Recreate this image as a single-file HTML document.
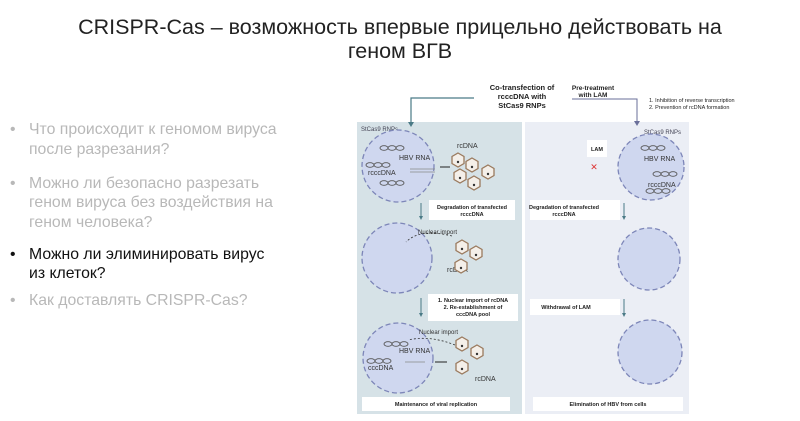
<!DOCTYPE html>
<html><head><meta charset="utf-8"><style>
html,body{margin:0;padding:0;background:#fff;width:800px;height:421px;overflow:hidden}
svg{display:block}
</style></head><body>
<svg width="800" height="421" viewBox="0 0 800 421" xmlns="http://www.w3.org/2000/svg">
<defs>
<g id="hex"><polygon points="0,-7 6,-3.5 6,3.5 0,7 -6,3.5 -6,-3.5" fill="#f4efe9" stroke="#9a7a5e" stroke-width="1.3"/><circle cx="0" cy="2" r="1.2" fill="#333"/></g>
<g id="dna"><ellipse cx="0" cy="0" rx="4" ry="2.3" fill="none" stroke="#555" stroke-width="0.9"/><ellipse cx="8" cy="0" rx="4" ry="2.3" fill="none" stroke="#555" stroke-width="0.9"/><ellipse cx="16" cy="0" rx="4" ry="2.3" fill="none" stroke="#555" stroke-width="0.9"/></g>
</defs>
<g font-family="Liberation Sans, Noto Sans CJK JP, sans-serif">
<text x="400" y="34" font-size="21.5" text-anchor="middle" fill="#222">CRISPR-Cas – возможность впервые прицельно действовать на</text>
<text x="400" y="58" font-size="21.5" text-anchor="middle" fill="#222">геном ВГВ</text>
<g font-size="15.8" fill="#b8b8b8">
<text x="10" y="134">•</text><text x="29" y="134">Что происходит к геномом вируса</text>
<text x="29" y="154">после разрезания?</text>
<text x="10" y="188">•</text><text x="29" y="188">Можно ли безопасно разрезать</text>
<text x="29" y="207">геном вируса без воздействия на</text>
<text x="29" y="227">геном человека?</text>
<text x="10" y="259" fill="#111">•</text><text x="29" y="259" fill="#111">Можно ли элиминировать вирус</text>
<text x="29" y="278" fill="#111">из клеток?</text>
<text x="10" y="305">•</text><text x="29" y="305">Как доставлять CRISPR-Cas?</text>
</g>
</g>
<rect x="357" y="122" width="165" height="292" fill="#d6e2e7"/>
<rect x="525" y="122" width="164" height="292" fill="#ebeef5"/>
<g font-family="Liberation Sans, sans-serif" font-weight="bold" font-size="7.5" fill="#222" text-anchor="middle">
<text x="522" y="90">Co-transfection of</text>
<text x="522" y="99">rcccDNA with</text>
<text x="522" y="108">StCas9 RNPs</text>
<text x="593" y="90" font-size="6.5">Pre-treatment</text>
<text x="593" y="97" font-size="6.5">with  LAM</text>
</g>
<g font-family="Liberation Sans, sans-serif" font-size="5.5" fill="#222">
<text x="649" y="102">1. Inhibition of reverse transcription</text>
<text x="649" y="109">2. Prevention of rcDNA formation</text>
</g>
<polyline points="474,98 411,98 411,124" fill="none" stroke="#4a7a86" stroke-width="1.2"/>
<polygon points="408,122 414,122 411,127" fill="#4a7a86"/>
<polyline points="572,99 637,99 637,123" fill="none" stroke="#6a6f9a" stroke-width="1"/>
<polygon points="634,121 640,121 637,126" fill="#6a6f9a"/>
<g font-family="Liberation Sans, sans-serif" font-size="6" fill="#445">
<text x="361" y="131">StCas9 RNPs</text>
<text x="644" y="134">StCas9 RNPs</text>
</g>
<g fill="#cfd7ef" stroke="#7d86b8" stroke-width="1.3" stroke-dasharray="5,3">
<circle cx="398" cy="166" r="36"/>
<circle cx="397" cy="258" r="35"/>
<circle cx="398" cy="358" r="35"/>
<circle cx="651" cy="167" r="33"/>
<circle cx="649" cy="259" r="31"/>
<circle cx="650" cy="352" r="32"/>
</g>
<use href="#dna" x="384" y="148"/><use href="#dna" x="370" y="165"/><use href="#dna" x="384" y="183"/>
<use href="#dna" x="645" y="148"/><use href="#dna" x="657" y="174"/><use href="#dna" x="650" y="191"/>
<use href="#dna" x="388" y="344"/><use href="#dna" x="371" y="361"/>
<g font-family="Liberation Sans, sans-serif" font-size="7" fill="#333">
<text x="399" y="160">HBV RNA</text><text x="368" y="175">rcccDNA</text>
<text x="457" y="148">rcDNA</text>
<text x="418" y="234" font-size="6">Nuclear import</text>
<text x="447" y="272">rcDNA</text>
<text x="419" y="334" font-size="6">Nuclear import</text>
<text x="399" y="353">HBV RNA</text><text x="368" y="370">cccDNA</text>
<text x="475" y="381">rcDNA</text>
<text x="644" y="161">HBV RNA</text><text x="648" y="187">rcccDNA</text>
</g>
<line x1="410" y1="169" x2="435" y2="169" stroke="#888" stroke-width="0.8"/>
<line x1="410" y1="172" x2="435" y2="172" stroke="#888" stroke-width="0.8"/>
<line x1="440" y1="167" x2="450" y2="167" stroke="#222" stroke-width="1"/>
<use href="#hex" x="458" y="160"/><use href="#hex" x="472" y="165"/><use href="#hex" x="488" y="172"/><use href="#hex" x="460" y="176"/><use href="#hex" x="474" y="183"/>
<use href="#hex" x="462" y="247"/><use href="#hex" x="476" y="253"/><use href="#hex" x="461" y="266"/>
<use href="#hex" x="462" y="344"/><use href="#hex" x="477" y="352"/><use href="#hex" x="462" y="367"/>
<line x1="405" y1="362" x2="425" y2="362" stroke="#888" stroke-width="0.8"/>
<line x1="435" y1="362" x2="447" y2="362" stroke="#222" stroke-width="1"/>
<path d="M452 236 Q420 228 406 242" fill="none" stroke="#333" stroke-width="0.8" stroke-dasharray="2,2"/>
<path d="M455 345 Q430 335 408 340" fill="none" stroke="#333" stroke-width="0.8" stroke-dasharray="2,2"/>
<g fill="#fff">
<rect x="429" y="200" width="86" height="20"/>
<rect x="428" y="294" width="90" height="27"/>
<rect x="362" y="397" width="148" height="14"/>
<rect x="530" y="200" width="90" height="20"/>
<rect x="530" y="299" width="90" height="16"/>
<rect x="533" y="397" width="150" height="14"/>
<rect x="587" y="140" width="20" height="17"/>
</g>
<g font-family="Liberation Sans, sans-serif" font-weight="bold" font-size="5.5" fill="#222" text-anchor="middle">
<text x="472" y="209">Degradation of transfected</text><text x="472" y="216">rcccDNA</text>
<text x="473" y="302">1. Nuclear import of rcDNA</text><text x="473" y="309">2. Re-establishment of</text><text x="473" y="316">cccDNA pool</text>
<text x="436" y="406">Maintenance of viral replication</text>
<text x="564" y="209">Degradation of transfected</text><text x="564" y="216">rcccDNA</text>
<text x="566" y="309">Withdrawal of LAM</text>
<text x="608" y="406">Elimination of HBV from cells</text>
<text x="597" y="151">LAM</text>
</g>
<text x="594" y="170" font-family="Liberation Sans, sans-serif" font-size="9" fill="#d33" text-anchor="middle">✕</text>
<g stroke="#4a7a86" stroke-width="1">
<line x1="421" y1="203" x2="421" y2="217"/><line x1="421" y1="298" x2="421" y2="314"/>
<line x1="624" y1="203" x2="624" y2="217"/><line x1="624" y1="299" x2="624" y2="314"/>
</g>
<g fill="#4a7a86"><polygon points="419,216 423,216 421,220"/><polygon points="419,313 423,313 421,317"/><polygon points="622,216 626,216 624,220"/><polygon points="622,313 626,313 624,317"/></g>
</svg>
</body></html>
